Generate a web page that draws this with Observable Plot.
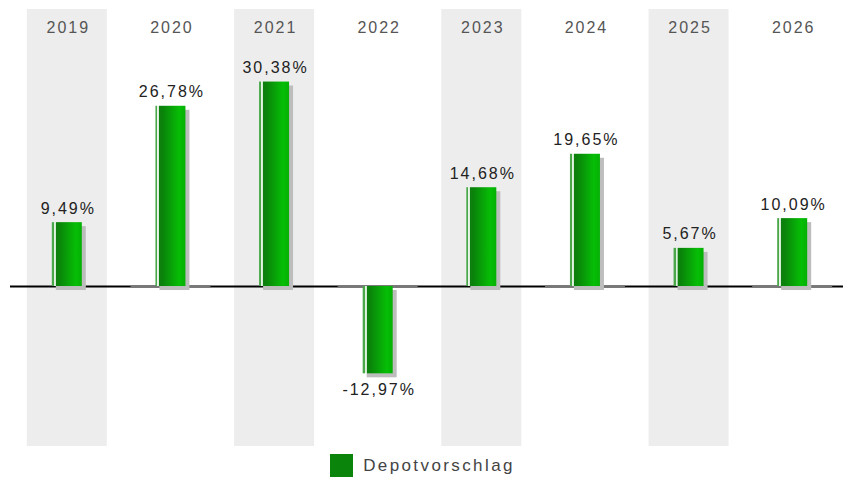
<!DOCTYPE html>
<html>
<head>
<meta charset="utf-8">
<script src="https://cdn.jsdelivr.net/npm/d3@7"></script>
<script src="https://cdn.jsdelivr.net/npm/@observablehq/plot@0.6"></script>
<style>
  html, body { margin: 0; padding: 0; background: #fff; }
  body { width: 843px; height: 481px; overflow: hidden; font-family: "Liberation Sans", Arial, sans-serif; }
  #chart svg { display: block; }
  #chart svg text { letter-spacing: 2px; }
  .legend { height: 33px; display: flex; justify-content: center; align-items: flex-start; padding-top: 6px; box-sizing: border-box; padding-left: 2px; }
  .legend .sw { width: 23px; height: 23px; background: #0a840a; margin-right: 10px; }
  .legend .lb { font-size: 17px; color: #444; letter-spacing: 2.4px; line-height: 23px; }
</style>
</head>
<body>
<div id="chart"></div>
<div class="legend"><div class="sw"></div><div class="lb">Depotvorschlag</div></div>
<script>
const years = ["2019", "2020", "2021", "2022", "2023", "2024", "2025", "2026"];
const values = [9.49, 26.78, 30.38, -12.97, 14.68, 19.65, 5.67, 10.09];
const seriesName = "Depotvorschlag";

const data = years.map((year, i) => ({year, value: values[i], i}));
const fmt = v => d3.format(".2f")(v).replace(".", ",").replace("\u2212", "-") + "%";
const step = (844 - 15) / years.length;
const shadeInset = (step - 80) / 2;
const barInset = (step - 30) / 2;

const chart = Plot.plot({
  width: 843,
  height: 448,
  marginTop: 9,
  marginBottom: 2,
  marginLeft: 10,
  marginRight: 0,
  style: {fontFamily: "'Liberation Sans', Arial, sans-serif", background: "#fff"},
  x: {type: "band", domain: years, range: [15, 844], padding: 0, round: false, axis: null},
  y: {domain: [-23.77, 41.16], axis: null},
  marks: [
    Plot.cell(data.filter(d => d.i % 2 === 0), {x: "year", fill: "#ededed", insetLeft: shadeInset, insetRight: shadeInset}),
    Plot.ruleY([0], {stroke: "#000", strokeWidth: 2}),
    Plot.tickY(data.filter(d => d.i % 2 === 1), {x: "year", y: 0, stroke: "#777", strokeWidth: 2, insetLeft: shadeInset, insetRight: shadeInset}),
    Plot.barY(data, {x: "year", y: "value", fill: "#bdbdbd", insetLeft: barInset, insetRight: barInset, dx: 4, dy: 4}),
    Plot.barY(data, {x: "year", y: "value", fill: "url(#barGrad)", insetLeft: barInset, insetRight: barInset}),
    Plot.text(data, {x: "year", frameAnchor: "top", dy: 18.5, dx: 1, text: "year", fill: "#555", fontSize: 16, lineAnchor: "middle"}),
    Plot.text(data.filter(d => d.value >= 0), {x: "year", y: "value", text: d => fmt(d.value), lineAnchor: "bottom", dy: -9, dx: 1, fill: "#222", fontSize: 16}),
    Plot.text(data.filter(d => d.value < 0), {x: "year", y: "value", text: d => fmt(d.value), lineAnchor: "top", dy: 10, dx: 1, fill: "#222", fontSize: 16})
  ]
});

const svg = d3.select(chart);
const defs = svg.insert("defs", ":first-child");
const g = defs.append("linearGradient").attr("id", "barGrad").attr("x1", "0").attr("x2", "1").attr("y1", "0").attr("y2", "0");
[
  [0, "#4aa84a"], [0.066, "#4aa84a"], [0.067, "#eaf6ea"], [0.13, "#cfeacf"],
  [0.135, "#0e7e0e"], [0.25, "#0a840a"], [0.8, "#06be06"], [1, "#05b005"]
].forEach(([o, c]) => g.append("stop").attr("offset", o).attr("stop-color", c));

document.getElementById("chart").appendChild(chart);
</script>
</body>
</html>
